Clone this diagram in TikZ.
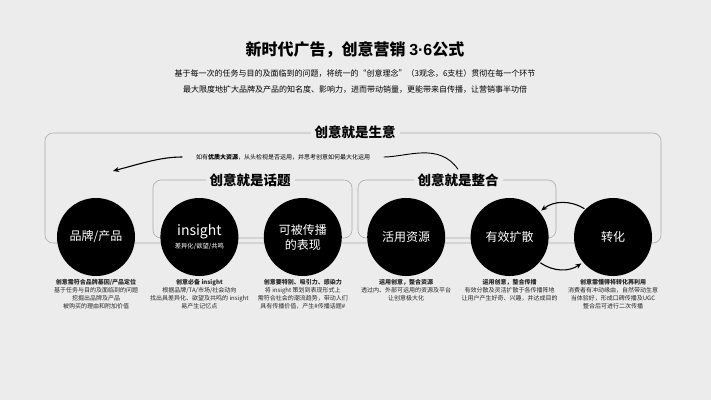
\documentclass[tikz,border=0pt]{standalone}
\usepackage{fontspec}
\setmainfont{Noto Sans CJK SC}
\newfontfamily\latinfont{Liberation Sans}
\usetikzlibrary{positioning,arrows.meta}

\definecolor{paper}{RGB}{236,236,236}
\definecolor{framegray}{RGB}{170,170,170}

\begin{document}
\begin{tikzpicture}[x=1pt, y=-1pt, node distance={25pt},
    main/.style = {circle, fill=black, minimum size=78pt, inner sep=0pt, text=white, align=center, font=\fontsize{12}{15}\selectfont},
    desc/.style = {align=center, inner sep=1pt, text=black!85, font=\fontsize{6}{8}\selectfont},
    head/.style = {fill=paper, inner sep=4pt, font=\fontsize{13.5}{16}\selectfont\bfseries},
    box/.style = {draw=framegray, line width=0.6pt, rounded corners=8pt},
    loop/.style = {-{Stealth[length=6pt, width=5pt]}, line width=1.1pt}]

    \fill[paper] (0,0) rectangle (711,400);

    \node (title) at (355,50) {\fontsize{16}{18}\selectfont\bfseries 新时代广告，创意营销 {\latinfont\bfseries 3·6}公式};
    \node[align=center, font=\fontsize{8}{16}\selectfont] (intro) at (355,81)
        {基于每一次的任务与目的及面临到的问题，将统一的“创意理念”（3观念，6支柱）贯彻在每一个环节\\
         最大限度地扩大品牌及产品的知名度、影响力，进而带动销量，更能带来自传播，让营销事半功倍};

    % frames
    \draw[box] (45,133) rectangle (661,243);
    \draw[box] (153,180) rectangle (352,238);
    \draw[box] (358,180) rectangle (556,238);
    \node[head] (life) at (355,132) {创意就是生意};
    \node[head] (topic) at (250,180) {创意就是话题};
    \node[head] (merge) at (458,180) {创意就是整合};

    \node[font=\fontsize{6}{8}\selectfont] (adv) at (283,157) {如有\textbf{优质大资源}，从头检视是否运用，并思考创意如何最大化运用};
    \coordinate (advtip) at (113,171);
    \draw[loop, shorten <=10pt] (adv.west) to[out=180, in=15] (advtip);
    \draw[line width=0.9pt, shorten <=10pt] (adv.east) to[out=0, in=125] (merge.north);

    % circles
    \node[main] (c1) at (96,237) {品牌/产品};
    \node[main] (c2) [right=of c1] {{\fontsize{14}{16}\selectfont insight}\\[-2pt]{\fontsize{6.3}{8}\selectfont 差异化/欲望/共鸣}};
    \node[main] (c3) [right=of c2] {可被传播\\的表现};
    \node[main] (c4) [right=of c3] {活用资源};
    \node[main] (c5) [right=of c4] {有效扩散};
    \node[main] (c6) [right=of c5] {转化};

    \draw[loop, shorten <=1pt, shorten >=2pt] (c6.135) to[bend right=35] (c5.40);
    \draw[loop, shorten <=1pt, shorten >=2pt] (c5.-40) to[bend right=35] (c6.-140);

    % descriptions
    \node[desc, below=2pt of c1] (t1) {\textbf{创意需符合品牌基因/产品定位}\\基于任务与目的及面临到的问题\\挖掘出品牌及产品\\被购买的理由和附加价值};
    \node[desc, below=2pt of c2] (t2) {\textbf{创意必备 insight}\\根据品牌/TA/市场/社会动向\\找出具差异化、欲望及共鸣的 insight\\易产生记忆点};
    \node[desc, below=2pt of c3] (t3) {\textbf{创意要特别、吸引力、感染力}\\将 insight 策划到表现形式上\\需符合社会的潮流趋势，带动人们\\具有传播价值，产生\#传播话题\#};
    \node[desc, below=2pt of c4] (t4) {\textbf{运用创意，整合资源}\\透过内、外部可运用的资源及平台\\让创意极大化};
    \node[desc, below=2pt of c5] (t5) {\textbf{运用创意，整合传播}\\有效分散及灵活扩散于各传播阵地\\让用户产生好奇、兴趣，并达成目的};
    \node[desc, below=2pt of c6] (t6) {\textbf{创意需懂得将转化再利用}\\消费者有冲动缘由，自然带动生意\\当体验好，形成口碑传播及UGC\\整合后可进行二次传播};

\end{tikzpicture}
\end{document}
